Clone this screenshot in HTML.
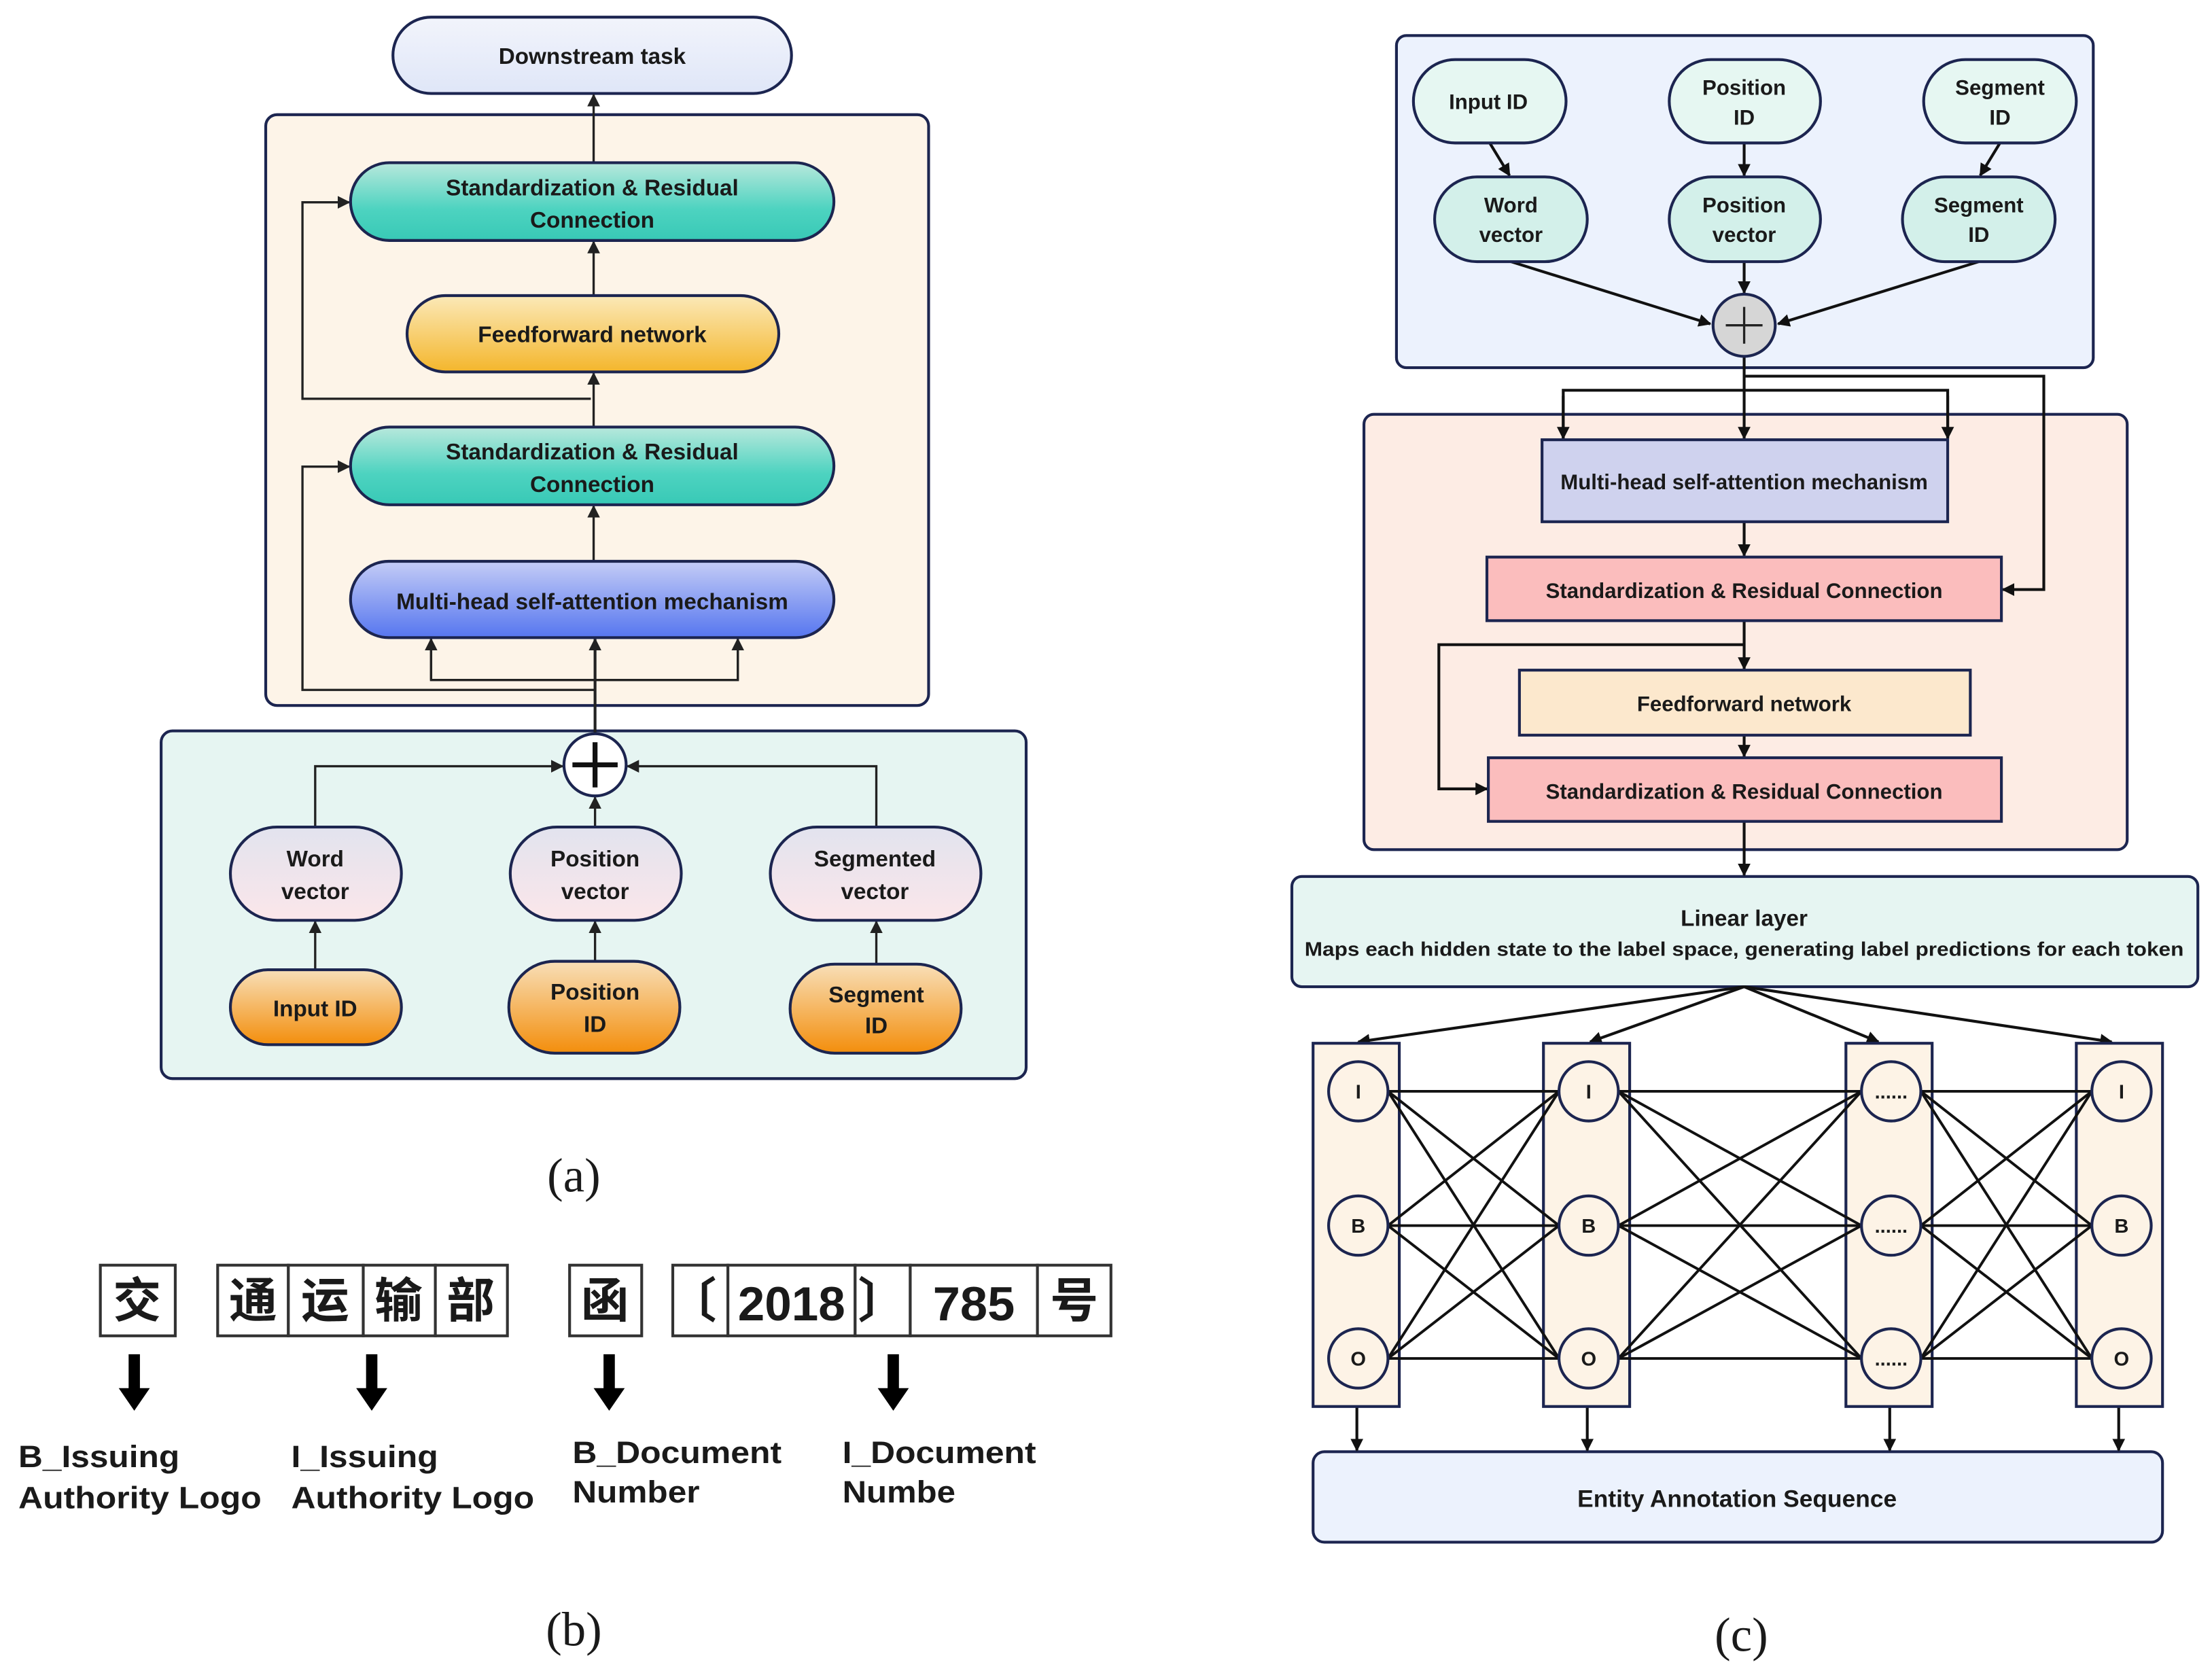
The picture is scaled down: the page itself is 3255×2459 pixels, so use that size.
<!DOCTYPE html>
<html><head><meta charset="utf-8"><style>
html,body{margin:0;padding:0;background:#fff}
svg{display:block}
text{font-family:"Liberation Sans","Noto Sans CJK SC",sans-serif;font-weight:bold;fill:#1a1a1a}
</style></head><body>
<svg width="3255" height="2459" viewBox="0 0 1565 1182" xmlns="http://www.w3.org/2000/svg">
<defs>
<marker id="ah" viewBox="0 0 10 10" refX="9" refY="5" markerWidth="9" markerHeight="9" markerUnits="userSpaceOnUse" orient="auto"><path d="M0,0 L10,5 L0,10 z" fill="#222"/></marker>
<marker id="ah2" viewBox="0 0 10 10" refX="9" refY="5" markerWidth="9" markerHeight="9" markerUnits="userSpaceOnUse" orient="auto"><path d="M0,0 L10,5 L0,10 z" fill="#111"/></marker>
<linearGradient id="gT" x1="0" y1="0" x2="0" y2="1"><stop offset="0" stop-color="#b8e8dc"/><stop offset="0.6" stop-color="#4dd3c0"/><stop offset="1" stop-color="#38c9b6"/></linearGradient>
<linearGradient id="gY" x1="0" y1="0" x2="0" y2="1"><stop offset="0" stop-color="#fbe9b8"/><stop offset="1" stop-color="#f4b62c"/></linearGradient>
<linearGradient id="gB" x1="0" y1="0" x2="0" y2="1"><stop offset="0" stop-color="#c4ccf6"/><stop offset="1" stop-color="#5676ef"/></linearGradient>
<linearGradient id="gO" x1="0" y1="0" x2="0" y2="1"><stop offset="0" stop-color="#f8dfb8"/><stop offset="1" stop-color="#f38e0c"/></linearGradient>
<linearGradient id="gP" x1="0" y1="0" x2="0" y2="1"><stop offset="0" stop-color="#e2e3ee"/><stop offset="1" stop-color="#fbe6ea"/></linearGradient>
<linearGradient id="gD" x1="0" y1="0" x2="0" y2="1"><stop offset="0" stop-color="#f2f4fb"/><stop offset="1" stop-color="#dfe6f8"/></linearGradient>
</defs>

<!-- ===== Panel (a) ===== -->
<g stroke="#1c2550" stroke-width="2">
<rect x="278" y="12" width="282" height="54" rx="27" fill="url(#gD)"/>
<rect x="188" y="81" width="469" height="418" rx="8" fill="#fdf4e8"/>
<rect x="114" y="517" width="612" height="246" rx="8" fill="#e6f5f2"/>
</g>
<g stroke="#222" stroke-width="1.6" fill="none">
<line x1="420" y1="115" x2="420" y2="67" marker-end="url(#ah)"/>
<line x1="420" y1="209" x2="420" y2="171" marker-end="url(#ah)"/>
<line x1="420" y1="302" x2="420" y2="264" marker-end="url(#ah)"/>
<line x1="420" y1="397" x2="420" y2="358" marker-end="url(#ah)"/>
<polyline points="418,282 214,282 214,143 247,143" marker-end="url(#ah)"/>
<polyline points="421,488 214,488 214,330 247,330" marker-end="url(#ah)"/>
<polyline points="305,452 305,481 522,481 522,452" />
<line x1="305" y1="481" x2="305" y2="452" marker-end="url(#ah)"/>
<line x1="522" y1="481" x2="522" y2="452" marker-end="url(#ah)"/>
<line x1="421" y1="519" x2="421" y2="452" marker-end="url(#ah)" stroke-width="2"/>
<polyline points="223,585 223,542 398,542" marker-end="url(#ah)"/>
<polyline points="620,585 620,542 444,542" marker-end="url(#ah)"/>
<line x1="421" y1="585" x2="421" y2="564" marker-end="url(#ah)"/>
<line x1="223" y1="686" x2="223" y2="652" marker-end="url(#ah)"/>
<line x1="421" y1="680" x2="421" y2="652" marker-end="url(#ah)"/>
<line x1="620" y1="682" x2="620" y2="652" marker-end="url(#ah)"/>
</g>
<g stroke="#1c2550" stroke-width="2">
<rect x="248" y="115" width="342" height="55" rx="27.5" fill="url(#gT)"/>
<rect x="288" y="209" width="263" height="54" rx="27" fill="url(#gY)"/>
<rect x="248" y="302" width="342" height="55" rx="27.5" fill="url(#gT)"/>
<rect x="248" y="397" width="342" height="54" rx="27" fill="url(#gB)"/>
<circle cx="421" cy="541" r="22" fill="#fff"/>
<rect x="163" y="585" width="121" height="66" rx="33" fill="url(#gP)"/>
<rect x="361" y="585" width="121" height="66" rx="33" fill="url(#gP)"/>
<rect x="545" y="585" width="149" height="66" rx="33" fill="url(#gP)"/>
<rect x="163" y="686" width="121" height="53" rx="26.5" fill="url(#gO)"/>
<rect x="360" y="680" width="121" height="65" rx="32.5" fill="url(#gO)"/>
<rect x="559" y="682" width="121" height="63" rx="31.5" fill="url(#gO)"/>
</g>
<path d="M405,541 H437 M421,525 V557" stroke="#111" stroke-width="3.5"/>
<g font-size="16" text-anchor="middle">
<text x="419" y="45">Downstream task</text>
<text x="419" y="138">Standardization &amp; Residual</text>
<text x="419" y="161">Connection</text>
<text x="419" y="242">Feedforward network</text>
<text x="419" y="325">Standardization &amp; Residual</text>
<text x="419" y="348">Connection</text>
<text x="419" y="431">Multi-head self-attention mechanism</text>
<text x="223" y="613">Word</text><text x="223" y="636">vector</text>
<text x="421" y="613">Position</text><text x="421" y="636">vector</text>
<text x="619" y="613">Segmented</text><text x="619" y="636">vector</text>
<text x="223" y="719">Input ID</text>
<text x="421" y="707">Position</text><text x="421" y="730">ID</text>
<text x="620" y="709">Segment</text><text x="620" y="731">ID</text>
</g>
<text x="406" y="843" font-size="34" text-anchor="middle" style="font-family:'Liberation Serif',serif;font-weight:normal">(a)</text>

<!-- ===== Panel (b) ===== -->
<g stroke="#333" stroke-width="2" fill="#fff">
<rect x="71" y="895" width="53" height="50"/>
<rect x="154" y="895" width="50" height="50"/><rect x="204" y="895" width="53" height="50"/><rect x="257" y="895" width="51" height="50"/><rect x="308" y="895" width="51" height="50"/>
<rect x="403" y="895" width="51" height="50"/>
<rect x="476" y="895" width="39" height="50"/><rect x="515" y="895" width="90" height="50"/><rect x="605" y="895" width="39" height="50"/><rect x="644" y="895" width="90" height="50"/><rect x="734" y="895" width="52" height="50"/>
</g>
<g font-size="34" text-anchor="middle" style="font-family:'Noto Serif CJK SC','Noto Sans CJK SC',serif;font-weight:normal">
<text x="97" y="932">交</text><text x="179" y="932">通</text><text x="230" y="932">运</text><text x="282" y="932">输</text><text x="333" y="932">部</text>
<text x="428" y="932">函</text><text x="490" y="932">〔</text><text x="624" y="932">〕</text><text x="760" y="932">号</text>
</g>
<g font-size="34" text-anchor="middle"><text x="560" y="934" textLength="76" lengthAdjust="spacingAndGlyphs">2018</text><text x="689" y="934" textLength="58" lengthAdjust="spacingAndGlyphs">785</text></g>
<g fill="#000">
<path d="M91,958 h8 v24 h7 l-11,16 l-11,-16 h7 z"/>
<path d="M259,958 h8 v24 h7 l-11,16 l-11,-16 h7 z"/>
<path d="M427,958 h8 v24 h7 l-11,16 l-11,-16 h7 z"/>
<path d="M628,958 h8 v24 h7 l-11,16 l-11,-16 h7 z"/>
</g>
<g font-size="22" style="font-family:'Liberation Sans Narrow','Liberation Sans',sans-serif">
<text x="13" y="1038" textLength="114" lengthAdjust="spacingAndGlyphs">B_Issuing</text>
<text x="13" y="1067" textLength="172" lengthAdjust="spacingAndGlyphs">Authority Logo</text>
<text x="206" y="1038" textLength="104" lengthAdjust="spacingAndGlyphs">I_Issuing</text>
<text x="206" y="1067" textLength="172" lengthAdjust="spacingAndGlyphs">Authority Logo</text>
<text x="405" y="1035" textLength="148" lengthAdjust="spacingAndGlyphs">B_Document</text>
<text x="405" y="1063" textLength="90" lengthAdjust="spacingAndGlyphs">Number</text>
<text x="596" y="1035" textLength="137" lengthAdjust="spacingAndGlyphs">I_Document</text>
<text x="596" y="1063" textLength="80" lengthAdjust="spacingAndGlyphs">Numbe</text>
</g>
<text x="406" y="1164" font-size="34" text-anchor="middle" style="font-family:'Liberation Serif',serif;font-weight:normal">(b)</text>

<!-- ===== Panel (c) ===== -->
<g stroke="#1c2550" stroke-width="2">
<rect x="988" y="25" width="493" height="235" rx="7" fill="#ecf2fd"/>
<rect x="965" y="293" width="540" height="308" rx="7" fill="#fdece4"/>
<rect x="914" y="620" width="641" height="78" rx="7" fill="#e6f5f2"/>
<rect x="929" y="1027" width="601" height="64" rx="8" fill="#ecf2fd"/>
</g>
<g stroke="#111" stroke-width="2" fill="none">
<line x1="1054" y1="101" x2="1068" y2="124" marker-end="url(#ah2)"/>
<line x1="1234" y1="101" x2="1234" y2="124" marker-end="url(#ah2)"/>
<line x1="1415" y1="101" x2="1401" y2="124" marker-end="url(#ah2)"/>
<line x1="1069" y1="185" x2="1210" y2="229" marker-end="url(#ah2)"/>
<line x1="1234" y1="185" x2="1234" y2="207" marker-end="url(#ah2)"/>
<line x1="1400" y1="185" x2="1258" y2="229" marker-end="url(#ah2)"/>
<line x1="1234" y1="252" x2="1234" y2="310" marker-end="url(#ah2)"/>
<polyline points="1234,266 1446,266 1446,417 1417,417" marker-end="url(#ah2)"/>
<polyline points="1106,310 1106,276 1378,276 1378,310"/>
<line x1="1106" y1="280" x2="1106" y2="310" marker-end="url(#ah2)"/>
<line x1="1378" y1="280" x2="1378" y2="310" marker-end="url(#ah2)"/>
<line x1="1234" y1="369" x2="1234" y2="393" marker-end="url(#ah2)"/>
<line x1="1234" y1="439" x2="1234" y2="473" marker-end="url(#ah2)"/>
<polyline points="1234,456 1018,456 1018,558 1052,558" marker-end="url(#ah2)"/>
<line x1="1234" y1="520" x2="1234" y2="535" marker-end="url(#ah2)"/>
<line x1="1234" y1="581" x2="1234" y2="619" marker-end="url(#ah2)"/>
<line x1="1234" y1="698" x2="961" y2="737" marker-end="url(#ah2)"/>
<line x1="1234" y1="698" x2="1125" y2="737" marker-end="url(#ah2)"/>
<line x1="1234" y1="698" x2="1329" y2="737" marker-end="url(#ah2)"/>
<line x1="1234" y1="698" x2="1494" y2="737" marker-end="url(#ah2)"/>
<line x1="960" y1="995" x2="960" y2="1026" marker-end="url(#ah2)"/>
<line x1="1123" y1="995" x2="1123" y2="1026" marker-end="url(#ah2)"/>
<line x1="1337" y1="995" x2="1337" y2="1026" marker-end="url(#ah2)"/>
<line x1="1499" y1="995" x2="1499" y2="1026" marker-end="url(#ah2)"/>
</g>
<g stroke="#1c2550" stroke-width="2">
<rect x="1000" y="42" width="108" height="59" rx="29.5" fill="#e6f7f2"/>
<rect x="1181" y="42" width="107" height="59" rx="29.5" fill="#e6f7f2"/>
<rect x="1361" y="42" width="108" height="59" rx="29.5" fill="#e6f7f2"/>
<rect x="1015" y="125" width="108" height="60" rx="30" fill="#d3f0ea"/>
<rect x="1181" y="125" width="107" height="60" rx="30" fill="#d3f0ea"/>
<rect x="1346" y="125" width="108" height="60" rx="30" fill="#d3f0ea"/>
<circle cx="1234" cy="230" r="22" fill="#d6d6d6"/>
<rect x="1091" y="311" width="287" height="58" fill="#cfd2ee"/>
<rect x="1052" y="394" width="364" height="45" fill="#fbbdbd"/>
<rect x="1075" y="474" width="319" height="46" fill="#fce8cd"/>
<rect x="1053" y="536" width="363" height="45" fill="#fbbdbd"/>
<rect x="929" y="738" width="61" height="257" fill="#fdf3e6"/>
<rect x="1092" y="738" width="61" height="257" fill="#fdf3e6"/>
<rect x="1306" y="738" width="61" height="257" fill="#fdf3e6"/>
<rect x="1469" y="738" width="61" height="257" fill="#fdf3e6"/>
</g>
<path d="M1221,230 H1247 M1234,217 V243" stroke="#222" stroke-width="1.6"/>
<g stroke="#111" stroke-width="1.9">
<line x1="982" y1="772" x2="1103" y2="772"/><line x1="982" y1="772" x2="1103" y2="867"/><line x1="982" y1="772" x2="1103" y2="961"/>
<line x1="982" y1="867" x2="1103" y2="772"/><line x1="982" y1="867" x2="1103" y2="867"/><line x1="982" y1="867" x2="1103" y2="961"/>
<line x1="982" y1="961" x2="1103" y2="772"/><line x1="982" y1="961" x2="1103" y2="867"/><line x1="982" y1="961" x2="1103" y2="961"/>
<line x1="1145" y1="772" x2="1317" y2="772"/><line x1="1145" y1="772" x2="1317" y2="867"/><line x1="1145" y1="772" x2="1317" y2="961"/>
<line x1="1145" y1="867" x2="1317" y2="772"/><line x1="1145" y1="867" x2="1317" y2="867"/><line x1="1145" y1="867" x2="1317" y2="961"/>
<line x1="1145" y1="961" x2="1317" y2="772"/><line x1="1145" y1="961" x2="1317" y2="867"/><line x1="1145" y1="961" x2="1317" y2="961"/>
<line x1="1359" y1="772" x2="1480" y2="772"/><line x1="1359" y1="772" x2="1480" y2="867"/><line x1="1359" y1="772" x2="1480" y2="961"/>
<line x1="1359" y1="867" x2="1480" y2="772"/><line x1="1359" y1="867" x2="1480" y2="867"/><line x1="1359" y1="867" x2="1480" y2="961"/>
<line x1="1359" y1="961" x2="1480" y2="772"/><line x1="1359" y1="961" x2="1480" y2="867"/><line x1="1359" y1="961" x2="1480" y2="961"/>
</g>
<g stroke="#1c2550" stroke-width="2" fill="#fdf3e6">
<circle cx="961" cy="772" r="21"/><circle cx="961" cy="867" r="21"/><circle cx="961" cy="961" r="21"/>
<circle cx="1124" cy="772" r="21"/><circle cx="1124" cy="867" r="21"/><circle cx="1124" cy="961" r="21"/>
<circle cx="1338" cy="772" r="21"/><circle cx="1338" cy="867" r="21"/><circle cx="1338" cy="961" r="21"/>
<circle cx="1501" cy="772" r="21"/><circle cx="1501" cy="867" r="21"/><circle cx="1501" cy="961" r="21"/>
</g>
<g font-size="14" text-anchor="middle">
<text x="961" y="777">I</text><text x="961" y="872">B</text><text x="961" y="966">O</text>
<text x="1124" y="777">I</text><text x="1124" y="872">B</text><text x="1124" y="966">O</text>
<text x="1338" y="777">......</text><text x="1338" y="872">......</text><text x="1338" y="966">......</text>
<text x="1501" y="777">I</text><text x="1501" y="872">B</text><text x="1501" y="966">O</text>
</g>
<g font-size="15" text-anchor="middle">
<text x="1053" y="77">Input ID</text>
<text x="1234" y="67">Position</text><text x="1234" y="88">ID</text>
<text x="1415" y="67">Segment</text><text x="1415" y="88">ID</text>
<text x="1069" y="150">Word</text><text x="1069" y="171">vector</text>
<text x="1234" y="150">Position</text><text x="1234" y="171">vector</text>
<text x="1400" y="150">Segment</text><text x="1400" y="171">ID</text>
<text x="1234" y="346">Multi-head self-attention mechanism</text>
<text x="1234" y="423">Standardization &amp; Residual Connection</text>
<text x="1234" y="503">Feedforward network</text>
<text x="1234" y="565">Standardization &amp; Residual Connection</text>
<text x="1234" y="655" font-size="16">Linear layer</text>
<text x="1234" y="676" font-size="14" textLength="622" lengthAdjust="spacingAndGlyphs">Maps each hidden state to the label space, generating label predictions for each token</text>
<text x="1229" y="1066" font-size="17">Entity Annotation Sequence</text>
</g>
<text x="1232" y="1168" font-size="34" text-anchor="middle" style="font-family:'Liberation Serif',serif;font-weight:normal">(c)</text>
</svg>
</body></html>
